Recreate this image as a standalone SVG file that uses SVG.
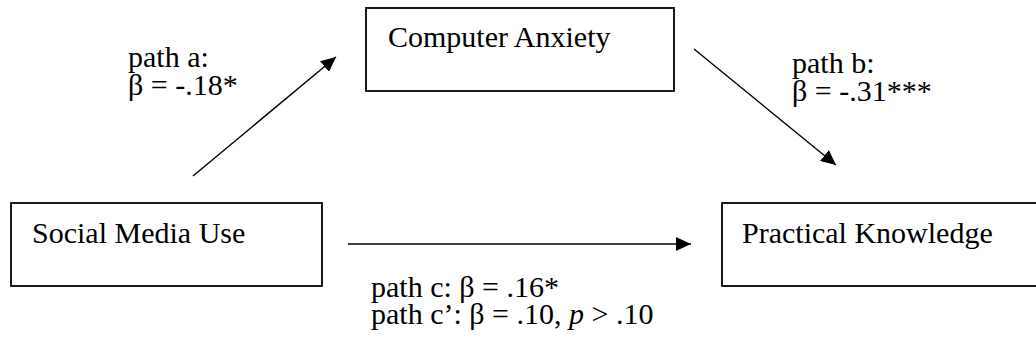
<svg xmlns="http://www.w3.org/2000/svg" width="1036" height="352" viewBox="0 0 1036 352">
<style>
text{font-family:"Liberation Serif","Times New Roman",serif;font-size:30px;fill:#000}
.box{fill:#fff;stroke:#000;stroke-width:1.8}
.edge{stroke:#000;stroke-width:1.4;fill:none;marker-end:url(#ah)}
</style>
<defs>
<marker id="ah" viewBox="0 0 15 14" refX="15" refY="7" markerWidth="15" markerHeight="14" markerUnits="userSpaceOnUse" orient="auto">
<path d="M0,0 L15,7 L0,14 Z" fill="#000"/>
</marker>
</defs>
<rect width="1036" height="352" fill="#fff"/>
<g id="node-computer-anxiety">
<rect class="box" x="366" y="8" width="308" height="83"/>
<text x="388" y="47">Computer Anxiety</text>
</g>
<g id="node-social-media-use">
<rect class="box" x="11" y="203" width="311" height="83"/>
<text x="32" y="243">Social Media Use</text>
</g>
<g id="node-practical-knowledge">
<rect class="box" x="722" y="203" width="330" height="83"/>
<text x="742" y="243">Practical Knowledge</text>
</g>
<g id="connectors">
<line class="edge" x1="193" y1="176" x2="336" y2="57"/>
<line class="edge" x1="694" y1="49" x2="836" y2="165"/>
<line class="edge" x1="348" y1="244" x2="691" y2="244"/>
</g>
<g id="labels">
<text x="128" y="67">path a:</text>
<text x="128" y="95">β = -.18*</text>
<text x="792" y="73">path b:</text>
<text x="792" y="101">β = -.31***</text>
<text x="371" y="297">path c: β = .16*</text>
<text x="371" y="324">path c’: β = .10, <tspan font-style="italic">p</tspan> &gt; .10</text>
</g>
</svg>
